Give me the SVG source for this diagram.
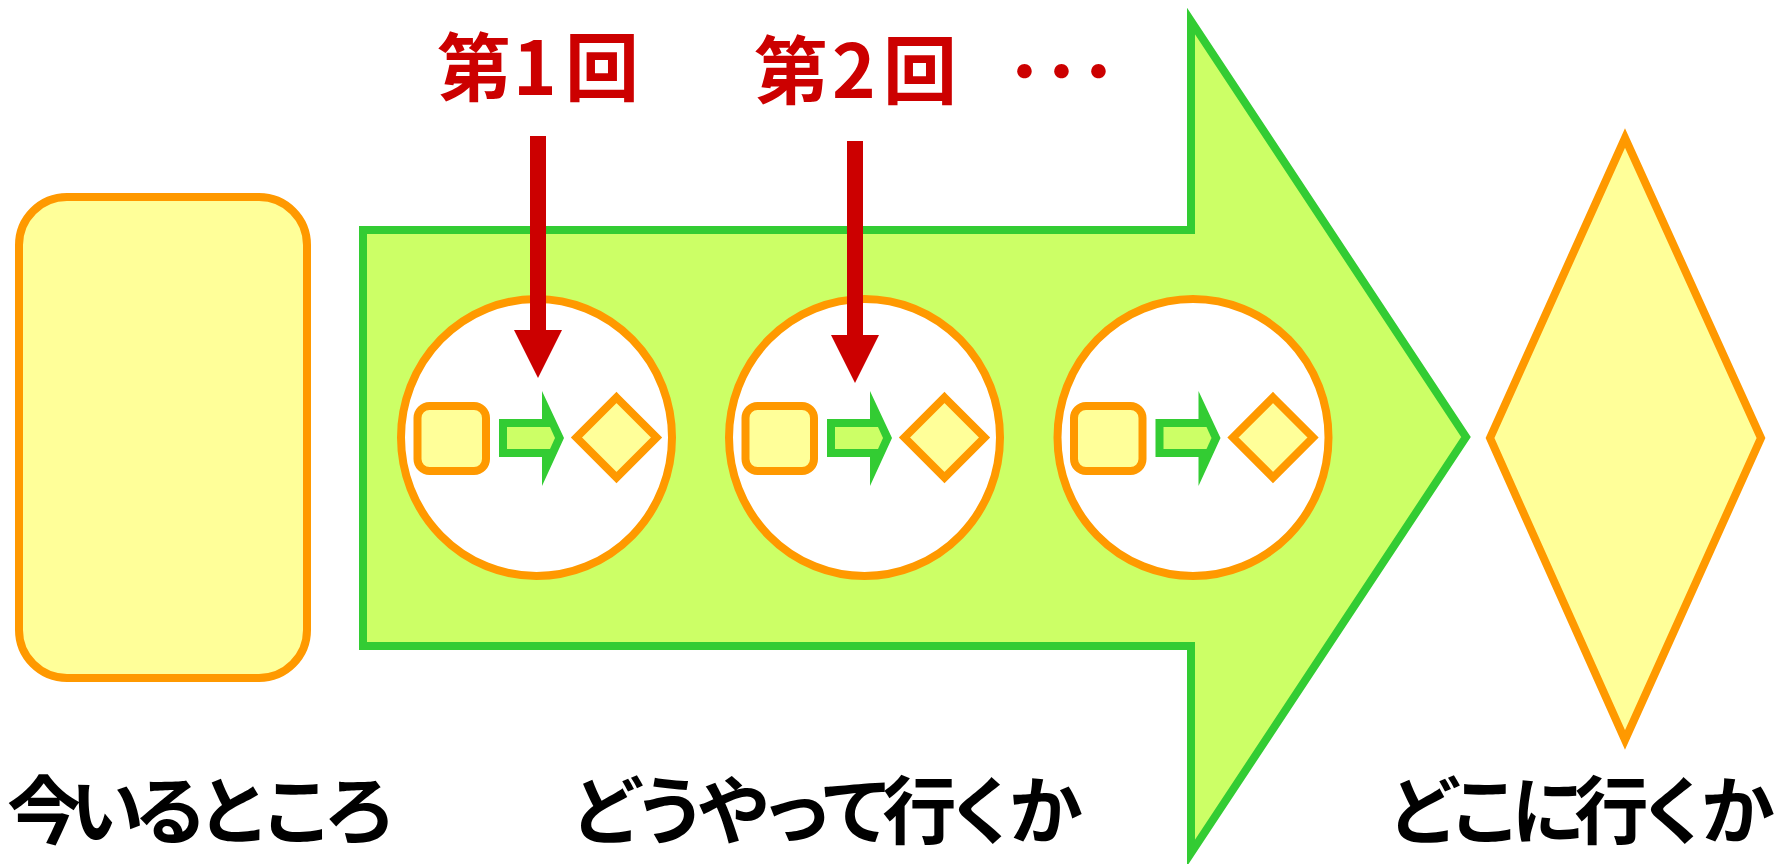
<svg xmlns="http://www.w3.org/2000/svg" width="1776" height="864" viewBox="0 0 1776 864">
  <style>
    .box { fill: #ffff99; stroke: #ff9900; stroke-width: 8; }
    .big { fill: #ccff66; stroke: #33cc33; stroke-width: 8; stroke-linejoin: miter; }
    .ring { fill: #ffffff; stroke: #ff9900; stroke-width: 8; }
    .gout { fill: #33cc33; }
    .gin { fill: #ccff66; }
    .label { font-family: "Noto Sans CJK JP", "Noto Sans", sans-serif; font-weight: 700; font-size: 74px; fill: #000000; }
    .red { font-family: "Noto Sans CJK JP", "Liberation Sans", sans-serif; font-weight: 700; font-size: 74px; fill: #cc0000; }
    .conn { stroke: #cc0000; stroke-width: 16; fill: none; }
  </style>
  <defs>
    <marker id="redhead" markerUnits="userSpaceOnUse" viewBox="0 -24 48 48" refX="0" refY="0" markerWidth="48" markerHeight="48" orient="auto">
      <path d="M0,-24 L48,0 L0,24 z" fill="#cc0000"/>
    </marker>
    <g id="mini">
      <rect class="box" x="-119" y="-31.5" width="68.5" height="65" rx="12"/>
      <polygon class="gout" points="-37.5,-18.5 5.5,-18.5 5.5,-46.5 27.5,0.5 5.5,48.5 5.5,19.5 -37.5,19.5"/>
      <polygon class="gin" points="-29.5,-10.5 13.5,-10.5 18.5,0.5 13.5,11.5 -29.5,11.5"/>
      <polygon class="box" points="80,-40 120,0 80,40 40,0"/>
    </g>
  </defs>

  <g id="process">
    <polygon class="big" points="363,230 1191,230 1191,21 1466,437 1191,853 1191,646 363,646"/>
  </g>

  <g id="current">
    <rect class="box" x="19" y="197" width="288" height="481" rx="48"/>
  </g>

  <g id="goal">
    <polygon class="box" points="1625,138 1761,438 1625,740 1490,438"/>
  </g>

  <g id="step1">
    <ellipse class="ring" cx="536.5" cy="437.5" rx="135.5" ry="138.5"/>
    <use href="#mini" transform="translate(536.5,437.5)"/>
  </g>
  <g id="step2">
    <ellipse class="ring" cx="864.5" cy="437.5" rx="135.5" ry="138.5"/>
    <use href="#mini" transform="translate(864.5,437.5)"/>
  </g>
  <g id="step3">
    <ellipse class="ring" cx="1193" cy="437.5" rx="135.5" ry="138.5"/>
    <use href="#mini" transform="translate(1193,437.5)"/>
  </g>

  <g id="round1">
    <text class="red" y="95"><tspan x="437">第</tspan><tspan x="513">1</tspan><tspan x="565">回</tspan></text>
  </g>
  <g id="round2">
    <text class="red" y="98"><tspan x="754">第</tspan><tspan x="832">2</tspan><tspan x="883">回</tspan></text>
  </g>
  <g id="more">
    <text class="red" x="1006" y="99" font-size="76">･･･</text>
  </g>

  <g id="connectors">
    <line class="conn" x1="538" y1="136" x2="538" y2="330" marker-end="url(#redhead)"/>
    <line class="conn" x1="855" y1="141" x2="855" y2="335" marker-end="url(#redhead)"/>
  </g>

  <g id="labels">
    <text class="label" x="7" y="838" textLength="390" lengthAdjust="spacing">今いるところ</text>
    <text class="label" x="570" y="838" textLength="513" lengthAdjust="spacing">どうやって行くか</text>
    <text class="label" x="1387" y="838" textLength="388" lengthAdjust="spacing">どこに行くか</text>
  </g>
</svg>
